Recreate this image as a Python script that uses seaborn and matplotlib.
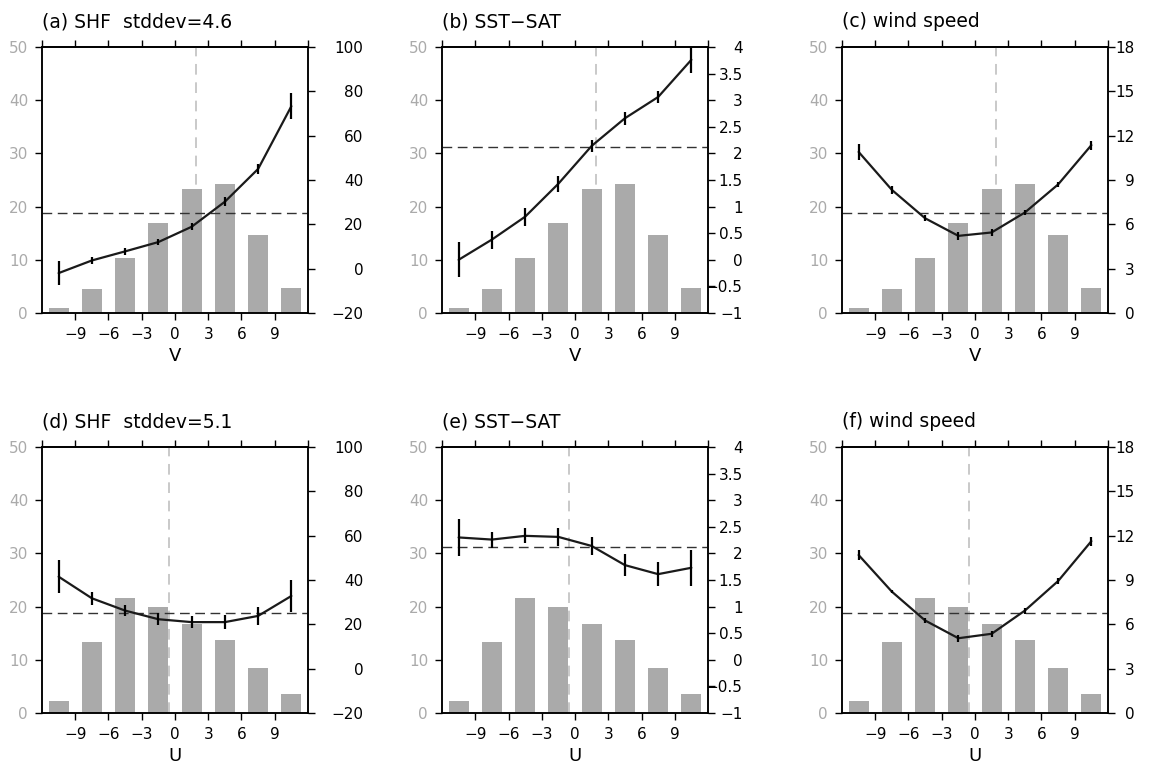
import numpy as np
import matplotlib
matplotlib.use("Agg")
import matplotlib.pyplot as plt
import seaborn as sns

sns.set_style("ticks")
plt.rcParams['font.family'] = ['DejaVu Sans']
plt.rcParams['text.color'] = 'black'
plt.rcParams['axes.labelcolor'] = 'black'
plt.rcParams['xtick.color'] = 'black'
plt.rcParams['ytick.color'] = 'black'

# ---------------- data ----------------
bin_centers = [-10.5, -7.5, -4.5, -1.5, 1.5, 4.5, 7.5, 10.5]
freq_v = [0.9, 4.5, 10.4, 17.0, 23.4, 24.3, 14.6, 4.7]
freq_u = [2.3, 13.4, 21.6, 19.9, 16.8, 13.8, 8.4, 3.6]

shf_v = [-2.0, 3.7, 7.8, 12.0, 18.9, 30.2, 45.0, 73.3]
shf_v_err = [5.3, 1.7, 1.5, 1.5, 1.5, 2.0, 2.4, 6.0]
sst_v = [0.0, 0.38, 0.81, 1.43, 2.14, 2.66, 3.06, 3.76]
sst_v_err = [0.33, 0.17, 0.17, 0.15, 0.12, 0.12, 0.12, 0.25]
ws_v = [10.9, 8.33, 6.41, 5.22, 5.45, 6.8, 8.7, 11.36]
ws_v_err = [0.55, 0.25, 0.2, 0.25, 0.22, 0.2, 0.15, 0.3]

shf_u = [41.5, 31.75, 26.2, 22.3, 21.0, 21.0, 23.8, 32.8]
shf_u_err = [7.5, 3.0, 2.5, 2.8, 2.7, 3.0, 4.0, 7.4]
sst_u = [2.3, 2.26, 2.33, 2.31, 2.14, 1.78, 1.61, 1.73]
sst_u_err = [0.35, 0.15, 0.14, 0.17, 0.17, 0.2, 0.22, 0.34]
ws_u = [10.69, 8.21, 6.26, 5.06, 5.36, 6.93, 8.93, 11.63]
ws_u_err = [0.35, 0.1, 0.15, 0.25, 0.2, 0.2, 0.2, 0.3]

mean_v = 1.9
mean_u = -0.55
ref_level = {"SHF": 25.0, "SST": 2.125, "WS": 6.75}

titles = ["(a) SHF  stddev=4.6", "(b) SST\u2212SAT", "(c) wind speed",
          "(d) SHF  stddev=5.1", "(e) SST\u2212SAT", "(f) wind speed"]
left_ticks = [0, 10, 20, 30, 40, 50]
right_ticks = {
    "SHF": [-20, 0, 20, 40, 60, 80, 100],
    "SST": [-1, -0.5, 0, 0.5, 1, 1.5, 2, 2.5, 3, 3.5, 4],
    "WS": [0, 3, 6, 9, 12, 15, 18],
}
right_labels = {
    "SHF": ["\u221220", "0", "20", "40", "60", "80", "100"],
    "SST": ["\u22121", "\u22120.5", "0", "0.5", "1", "1.5", "2", "2.5", "3", "3.5", "4"],
    "WS": ["0", "3", "6", "9", "12", "15", "18"],
}
x_ticks = [-9, -6, -3, 0, 3, 6, 9]
x_ticklabels = ["\u22129", "\u22126", "\u22123", "0", "3", "6", "9"]
top_ticks = [-12, -9, -6, -3, 0, 3, 6, 9, 12]

# ---------------- figure ----------------
W, H = 1154, 767
fig = plt.figure(figsize=(W / 100, H / 100), dpi=100)

lefts_px = [42, 442, 842]
tops_px = [47, 447]
aw_px, ah_px = 266, 266
right_pad = {"SHF": 35, "SST": 20, "WS": 14}

rows = [
    (freq_v, [("SHF", shf_v, shf_v_err), ("SST", sst_v, sst_v_err), ("WS", ws_v, ws_v_err)], mean_v, "V"),
    (freq_u, [("SHF", shf_u, shf_u_err), ("SST", sst_u, sst_u_err), ("WS", ws_u, ws_u_err)], mean_u, "U"),
]

gray = "#aaaaaa"
tick_fs = 11
idx = 0
for r, (freq, series, vmean, xlab) in enumerate(rows):
    for c, (key, vals, errs) in enumerate(series):
        l = lefts_px[c] / W
        b = (H - tops_px[r] - ah_px) / H
        ax = fig.add_axes([l, b, aw_px / W, ah_px / H])
        ax.axvline(vmean, color="#bbbbbb", lw=1.1, ls=(0, (7, 5)), zorder=0.5)
        sns.barplot(x=bin_centers, y=freq, native_scale=True, width=0.6,
                    color=gray, saturation=1, errorbar=None, ax=ax, zorder=1,
                    edgecolor="none")
        ax.set_xlim(-12, 12)
        ax.set_ylim(0, 50)
        ax.set_yticks(left_ticks)
        ax.set_yticklabels([str(t) for t in left_ticks])
        ax.set_xticks(x_ticks)
        ax.set_xticklabels(x_ticklabels)
        ax.tick_params(axis="y", direction="out", length=5, width=1, colors="black",
                       labelcolor=gray, labelsize=tick_fs, pad=5)
        ax.tick_params(axis="x", direction="out", length=5, width=1, colors="black",
                       labelsize=tick_fs, pad=5)
        ax.set_xlabel(xlab, fontsize=13, labelpad=4, color="black")
        ax.set_ylabel("")
        for s in ax.spines.values():
            s.set_linewidth(1.1)
            s.set_color("black")
            s.set_visible(True)
        top = ax.secondary_xaxis("top")
        top.set_xticks(top_ticks)
        top.set_xticklabels([])
        top.tick_params(direction="out", length=5, width=1, colors="black")
        top.spines["top"].set_linewidth(1.1)

        ax2 = ax.twinx()
        ax2.axhline(ref_level[key], color="#333333", lw=1.0, ls=(0, (7, 4)), zorder=1)
        sns.lineplot(x=bin_centers, y=vals, ax=ax2, color="#1a1a1a", lw=1.6, zorder=3)
        lo = np.array(vals) - np.array(errs)
        hi = np.array(vals) + np.array(errs)
        ax2.vlines(bin_centers, lo, hi, color="black", lw=1.6, zorder=3)
        rt = right_ticks[key]
        ax2.set_ylim(rt[0], rt[-1])
        ax2.set_yticks(rt)
        ax2.set_yticklabels(right_labels[key])
        ax2.tick_params(axis="y", direction="out", length=5, width=1, colors="black",
                        labelsize=tick_fs, pad=right_pad[key])
        for lab in ax2.get_yticklabels():
            lab.set_horizontalalignment("right")
        ax2.set_ylabel("")
        for s in ax2.spines.values():
            s.set_linewidth(1.1)
            s.set_color("black")
        ax2.set_xlim(-12, 12)

        ax.text(0, 1.075, titles[idx], transform=ax.transAxes, fontsize=13.5,
                ha="left", va="baseline", color="black")
        idx += 1

fig.savefig("out.png", dpi=100)
